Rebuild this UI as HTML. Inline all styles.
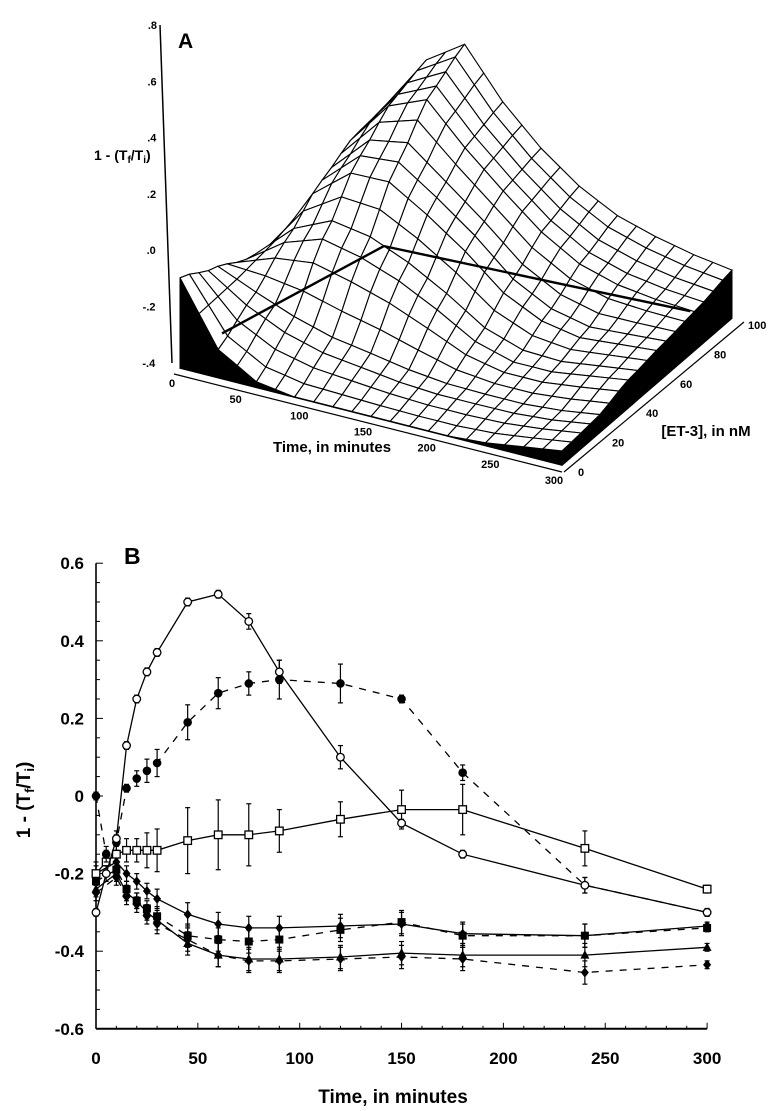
<!DOCTYPE html>
<html><head><meta charset="utf-8"><style>
html,body{margin:0;padding:0;background:#fff;}
svg{display:block;font-family:"Liberation Sans",Arial,sans-serif;}
</style></head><body>
<svg id="fig" width="782" height="1111" viewBox="0 0 782 1111">
<g id="pa"></g>
<g id="pb"></g>
</svg>
<script>
// ---------- Panel A data ----------
const aTimes=[0,30,60,90,120,150,180,210,240,270,300];
const aConcs=[0,20,40,60,80,100];
const aZ0=[-0.08,-0.30,-0.38,-0.40,-0.40,-0.40,-0.40,-0.40,-0.39,-0.37,-0.35];
const aZ20=[-0.15,-0.22,-0.28,-0.32,-0.34,-0.36,-0.37,-0.37,-0.37,-0.36,-0.34];
const aZ40=[-0.22,-0.12,-0.07,-0.10,-0.15,-0.22,-0.30,-0.34,-0.34,-0.32,-0.30];
const aZ60=[-0.26,-0.02,0.10,0.11,0.02,-0.08,-0.20,-0.27,-0.30,-0.29,-0.28];
const aZ80=[-0.28,0.04,0.20,0.26,0.12,0.00,-0.11,-0.19,-0.23,-0.25,-0.26];
const aZ100=[-0.30,0.05,0.24,0.33,0.16,0.03,-0.07,-0.14,-0.18,-0.21,-0.23];
const aZTicks=[".8",".6",".4",".2",".0","-.2","-.4"];
const aTimeTicks=[0,50,100,150,200,250,300];
const aConcTicks=[0,20,40,60,80,100];
const aLineT=[25,60,170,270];
const aLineC=[6,75,95,98];
const aLineZ=[-0.28,-0.29,-0.40,-0.40];
// ---------- Panel B data ----------
const bT1=[0,5,10,15,20,25,30,45,60,75,90,120,150,180,240,300];
const bOpenCircle=[-0.30,-0.20,-0.11,0.13,0.25,0.32,0.37,0.50,0.52,0.45,0.32,0.10,-0.07,-0.15,-0.23,-0.30];
const bOpenCircleErr=[0.01,0.02,0.02,0.01,0.01,0.01,0.01,0.01,0.01,0.02,0.03,0.03,0.01,0.01,0.02,0.01];
const bFilledCircle=[0.00,-0.15,-0.12,0.02,0.045,0.065,0.085,0.19,0.265,0.29,0.30,0.29,0.25,0.06,-0.23,-0.30];
const bFilledCircleErr=[0.01,0.02,0.02,0.01,0.02,0.03,0.035,0.045,0.04,0.03,0.05,0.05,0.01,0.02,0.02,0.01];
const bSquare=[-0.20,-0.17,-0.15,-0.14,-0.14,-0.14,-0.14,-0.115,-0.10,-0.10,-0.09,-0.06,-0.035,-0.035,-0.135,-0.24];
const bSquareErr=[0.03,0.03,0.03,0.03,0.03,0.045,0.055,0.085,0.09,0.08,0.055,0.045,0.05,0.065,0.045,0.01];
const bT2=[0,10,15,20,25,30,45,60,75,90,120,150,180,240,300];
const bSeriesD=[-0.20,-0.17,-0.20,-0.22,-0.245,-0.265,-0.305,-0.33,-0.34,-0.34,-0.335,-0.33,-0.355,-0.36,-0.335];
const bSeriesE=[-0.22,-0.19,-0.24,-0.27,-0.29,-0.31,-0.36,-0.37,-0.375,-0.37,-0.345,-0.325,-0.36,-0.36,-0.34];
const bSeriesF=[-0.24,-0.20,-0.25,-0.27,-0.30,-0.32,-0.38,-0.41,-0.42,-0.42,-0.415,-0.405,-0.41,-0.41,-0.39];
const bSeriesG=[-0.25,-0.21,-0.26,-0.28,-0.31,-0.33,-0.37,-0.41,-0.425,-0.425,-0.42,-0.415,-0.42,-0.455,-0.435];
const bLowErr=[0.02,0.02,0.02,0.02,0.02,0.025,0.03,0.03,0.03,0.03,0.03,0.03,0.03,0.03,0.01];
const bYTicks=[0.6,0.4,0.2,0,-0.2,-0.4,-0.6];
const bYTickLabels=["0.6","0.4","0.2","0","-0.2","-0.4","-0.6"];
const bXTicks=[0,50,100,150,200,250,300];

const NS="http://www.w3.org/2000/svg";
function mk(parent,tag,attrs,name,text){const e=document.createElementNS(NS,tag);for(const k in attrs)e.setAttribute(k,attrs[k]);


if(text!==undefined)e.textContent=text;parent.appendChild(e);return e;}

// ===== Panel A =====
const pa=document.getElementById('pa');
const aGrid=[aZ0,aZ20,aZ40,aZ60,aZ80,aZ100];
function P(t,c,z){return [180+t/300*382+c/100*170, 368+t/300*97-c/100*147-(z+0.4)*282];}
function zAt(t,c){
  let i=0;while(i<aTimes.length-2&&t>aTimes[i+1])i++;
  let j=0;while(j<aConcs.length-2&&c>aConcs[j+1])j++;
  const u=(t-aTimes[i])/(aTimes[i+1]-aTimes[i]), v=(c-aConcs[j])/(aConcs[j+1]-aConcs[j]);
  const su=u*u*(3-2*u)*0.5+u*0.5, sv=v*v*(3-2*v)*0.5+v*0.5;
  return (1-su)*(1-sv)*aGrid[j][i]+su*(1-sv)*aGrid[j][i+1]+(1-su)*sv*aGrid[j+1][i]+su*sv*aGrid[j+1][i+1];
}
const NT=20,NC=18;
const pt=(p)=>p[0].toFixed(1)+","+p[1].toFixed(1);
const b0=P(0,0,-0.4),b1=P(300,0,-0.4),b2=P(300,100,-0.4);
function skirt(pts,name){mk(pa,'polygon',{points:pts.map(pt).join(' '),fill:'#000',stroke:'#000','stroke-width':1},name);}
let sk=[];for(let k=0;k<=NC;k++){const c=k*100/NC;sk.push(P(0,c,zAt(0,c)));}sk.push(P(0,100,-0.4));sk.push(P(0,0,-0.4));skirt(sk,'left-skirt');
sk=[];for(let k=0;k<=NC;k++){const c=k*100/NC;sk.push(P(300,c,zAt(300,c)));}sk.push(P(300,100,-0.4));sk.push(P(300,0,-0.4));skirt(sk,'right-skirt');
sk=[];for(let k=0;k<=NT;k++){const t=k*300/NT;sk.push(P(t,0,zAt(t,0)));}sk.push(P(300,0,-0.4));sk.push(P(0,0,-0.4));skirt(sk,'front-skirt');
const quads=[];
for(let j=0;j<NC;j++)for(let i=0;i<NT;i++){
  const t0=i*300/NT,t1=(i+1)*300/NT,c0=j*100/NC,c1=(j+1)*100/NC;
  const q=[P(t0,c0,zAt(t0,c0)),P(t1,c0,zAt(t1,c0)),P(t1,c1,zAt(t1,c1)),P(t0,c1,zAt(t0,c1))];
  const d=P((t0+t1)/2,(c0+c1)/2,-0.4)[1];
  quads.push({q,d});
}
quads.sort((a,b)=>a.d-b.d);
for(const o of quads){mk(pa,'polygon',{points:o.q.map(pt).join(' '),fill:'#fff',stroke:'#000','stroke-width':1.1,'stroke-linejoin':'round'},'surface-cell');}
const hl=aLineT.map((t,i)=>P(t,aLineC[i],aLineZ[i]));
mk(pa,'polyline',{points:hl.map(pt).join(' '),fill:'none',stroke:'#000','stroke-width':2.4},'surface-reference-line');
mk(pa,'polyline',{points:[b0,b1,b2].map(pt).join(' '),fill:'none',stroke:'#000','stroke-width':1.6},'base-axes');
mk(pa,'line',{x1:b0[0]-6,y1:b0[1]+6,x2:b1[0],y2:b1[1]+7,stroke:'#000','stroke-width':1.2},'time-axis-line');
mk(pa,'line',{x1:b1[0]+2,y1:b1[1]+7,x2:b2[0]+12,y2:b2[1]+4,stroke:'#000','stroke-width':1.2},'conc-axis-line');
mk(pa,'line',{x1:160,y1:25,x2:172,y2:363,stroke:'#000','stroke-width':1.5},'z-axis-line');
aZTicks.forEach((s,i)=>{mk(pa,'text',{x:157-i*0.3,y:29+i*56.3,'text-anchor':'end','font-size':11,'font-weight':'bold'},'z-tick-label',s);});
aTimeTicks.forEach((t,i)=>{const p=P(t,0,-0.4);mk(pa,'text',{x:p[0]-8,y:p[1]+19,'text-anchor':'middle','font-size':11,'font-weight':'bold'},'time-tick-label',String(t));});
aConcTicks.forEach((c,i)=>{const p=P(300,c,-0.4);mk(pa,'text',{x:p[0]+16,y:p[1]+11,'text-anchor':'start','font-size':11,'font-weight':'bold'},'conc-tick-label',String(c));});
mk(pa,'text',{x:178,y:48,'font-size':21,'font-weight':'bold'},'panel-a-label','A');
const ya=mk(pa,'text',{x:94,y:160,'font-size':14,'font-weight':'bold'},'z-axis-title','');
ya.innerHTML='1 - (T<tspan font-size="10" dy="3">f</tspan><tspan dy="-3">/T</tspan><tspan font-size="10" dy="3">i</tspan><tspan dy="-3">)</tspan>';
mk(pa,'text',{x:332,y:452,'text-anchor':'middle','font-size':15,'font-weight':'bold'},'time-axis-title','Time, in minutes');
mk(pa,'text',{x:706,y:436,'text-anchor':'middle','font-size':15,'font-weight':'bold'},'conc-axis-title','[ET-3], in nM');

// ===== Panel B =====
const pb=document.getElementById('pb');
const X=t=>96+t*2.037, Y=v=>796-v*388;
mk(pb,'line',{x1:96,y1:Y(0.6),x2:96,y2:Y(-0.6),stroke:'#000','stroke-width':1.6},'y-axis-line');
mk(pb,'line',{x1:96,y1:Y(-0.6),x2:X(300),y2:Y(-0.6),stroke:'#000','stroke-width':2},'x-axis-line');
for(let k=0;k<=24;k++){const v=-0.6+k*0.05;mk(pb,'line',{x1:96,y1:Y(v),x2:k%4===0?103:100,y2:Y(v),stroke:'#000','stroke-width':1},'y-tick');}
for(let t=0;t<=300;t+=10){mk(pb,'line',{x1:X(t),y1:Y(-0.6),x2:X(t),y2:Y(-0.6)-(t%50===0?6:3),stroke:'#000','stroke-width':1},'x-tick');}
bYTicks.forEach((v,i)=>{mk(pb,'text',{x:84,y:Y(v)+6,'text-anchor':'end','font-size':17,'font-weight':'bold'},'y-tick-label',bYTickLabels[i]);});
bXTicks.forEach(t=>{mk(pb,'text',{x:X(t),y:1064,'text-anchor':'middle','font-size':17,'font-weight':'bold'},'x-tick-label',String(t));});
mk(pb,'text',{x:393,y:1103,'text-anchor':'middle','font-size':19,'font-weight':'bold'},'x-axis-title','Time, in minutes');
const yt=mk(pb,'text',{x:0,y:0,'text-anchor':'middle','font-size':19,'font-weight':'bold',transform:'translate(30,800) rotate(-90)'},'y-axis-title','');
yt.innerHTML='1 - (T<tspan font-size="13" dy="4">f</tspan><tspan dy="-4">/T</tspan><tspan font-size="13" dy="4">i</tspan><tspan dy="-4">)</tspan>';
mk(pb,'text',{x:124,y:564,'font-size':23,'font-weight':'bold'},'panel-b-label','B');

function series(ts,vs,errs,dash,marker,name){
  const g=mk(pb,'g',{},name);
  mk(g,'polyline',{points:ts.map((t,i)=>X(t).toFixed(1)+","+Y(vs[i]).toFixed(1)).join(' '),fill:'none',stroke:'#000','stroke-width':1.3,'stroke-dasharray':dash?'7,7':'none'},name+'-line');
  ts.forEach((t,i)=>{const x=X(t),y=Y(vs[i]),e=errs[i]*388;
    mk(g,'line',{x1:x,y1:y-e,x2:x,y2:y+e,stroke:'#000','stroke-width':1.2},name+'-error-bar');
    mk(g,'line',{x1:x-2.5,y1:y-e,x2:x+2.5,y2:y-e,stroke:'#000','stroke-width':1.2},name+'-error-cap');
    mk(g,'line',{x1:x-2.5,y1:y+e,x2:x+2.5,y2:y+e,stroke:'#000','stroke-width':1.2},name+'-error-cap');
    if(marker==='oc')mk(g,'circle',{cx:x,cy:y,r:3.8,fill:'#fff',stroke:'#000','stroke-width':1.3},name+'-point');
    else if(marker==='fc')mk(g,'circle',{cx:x,cy:y,r:4.3,fill:'#000'},name+'-point');
    else if(marker==='os')mk(g,'rect',{x:x-3.8,y:y-3.8,width:7.6,height:7.6,fill:'#fff',stroke:'#000','stroke-width':1.3},name+'-point');
    else if(marker==='fs')mk(g,'rect',{x:x-4,y:y-4,width:8,height:8,fill:'#000'},name+'-point');
    else if(marker==='fd')mk(g,'polygon',{points:`${x},${y-5} ${x+4},${y} ${x},${y+5} ${x-4},${y}`,fill:'#000'},name+'-point');
    else mk(g,'polygon',{points:`${x},${y-5} ${x+4.5},${y+3.5} ${x-4.5},${y+3.5}`,fill:'#000'},name+'-point');
  });
}
series(bT2,bSeriesG,bLowErr,true,'fd','series-g');
series(bT2,bSeriesF,bLowErr,false,'ft','series-f');
series(bT2,bSeriesE,bLowErr,true,'fs','series-e');
series(bT2,bSeriesD,bLowErr,false,'fd','series-d');
series(bT1,bSquare,bSquareErr,false,'os','series-open-square');
series(bT1,bFilledCircle,bFilledCircleErr,true,'fc','series-filled-circle');
series(bT1,bOpenCircle,bOpenCircleErr,false,'oc','series-open-circle');
</script>
</body></html>
